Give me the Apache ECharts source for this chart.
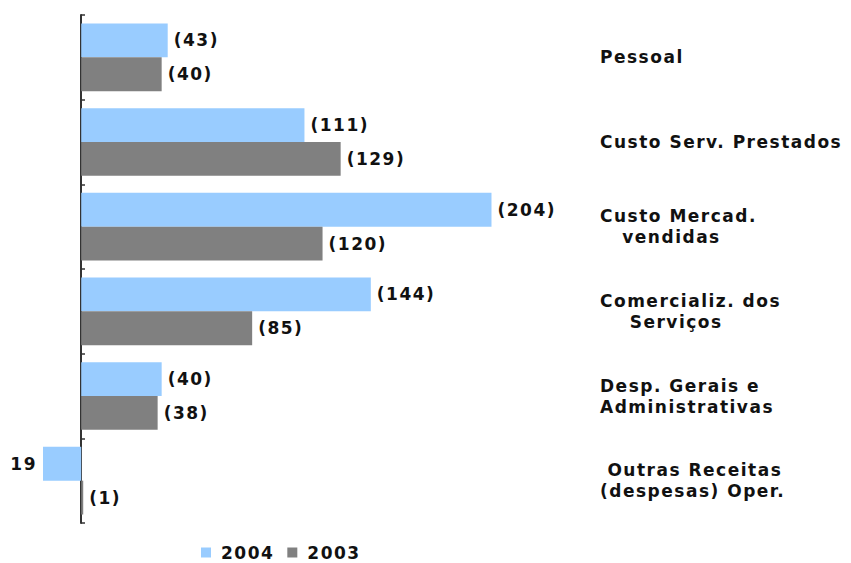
<!DOCTYPE html>
<html lang="pt">
<head>
<meta charset="UTF-8">
<title>Despesas operacionais</title>
<style>
  * { margin: 0; padding: 0; }
  html, body { width: 100%; height: 100%; background: #fff; }
  #chart { width: 851px; height: 563px; }
  /* o original tem letras bem espaçadas */
  #chart svg text { letter-spacing: 1.5px; }
</style>
</head>
<body>
<div id="chart"></div>
<script src="https://cdn.jsdelivr.net/npm/echarts@6/dist/echarts.min.js"></script>
<script>
  // categorias (de cima para baixo)
  var categorias = [
    'Pessoal',
    'Custo Serv. Prestados',
    'Custo Mercad.\n   vendidas',
    'Comercializ. dos\n    Serviços',
    'Desp. Gerais e\nAdministrativas',
    ' Outras Receitas\n(despesas) Oper.'
  ];
  // valores negativos = despesas, mostrados entre parênteses
  var valores2004 = [-43, -111, -204, -144, -40, 19];
  var valores2003 = [-40, -129, -120, -85, -38, -1];

  var fonte = { fontFamily: 'DejaVu Sans', fontWeight: 'bold', fontSize: 17, color: '#111' };

  function fmt(v) {
    return v < 0 ? '(' + (-v) + ')' : String(v);
  }

  function montaDados(arr) {
    return arr.map(function (v) {
      return {
        value: v,
        label: { position: v < 0 ? 'right' : 'left' }
      };
    });
  }

  function serie(nome, arr, cor) {
    return {
      name: nome,
      type: 'bar',
      barGap: '0%',
      barCategoryGap: '20%',
      itemStyle: { color: cor },
      label: Object.assign({
        show: true,
        distance: 6,
        formatter: function (p) { return fmt(p.value); }
      }, fonte),
      data: montaDados(arr)
    };
  }

  var chart = echarts.init(document.getElementById('chart'), null, { renderer: 'svg' });
  chart.setOption({
    animation: false,
    legend: {
      data: ['2004', '2003'],
      left: 196,
      top: 539,
      itemWidth: 10,
      itemHeight: 10,
      itemGap: 19,
      icon: 'rect',
      textStyle: Object.assign({ padding: [0, 0, 0, 5] }, fonte)
    },
    grid: { left: 41, top: 15, width: 543, height: 508, containLabel: false },
    xAxis: {
      type: 'value',
      inverse: true,
      min: -250,
      max: 20,
      show: false
    },
    yAxis: [
      {
        type: 'category',
        inverse: true,
        data: categorias,
        position: 'left',
        offset: -40,
        axisLine: { show: true, onZero: false, lineStyle: { color: '#333', width: 2 } },
        axisTick: { show: true, inside: true, length: 4, lineStyle: { color: '#333', width: 1.5 } },
        axisLabel: { show: false }
      },
      {
        type: 'category',
        inverse: true,
        data: categorias,
        position: 'right',
        axisLine: { show: false },
        axisTick: { show: false },
        axisLabel: Object.assign({ margin: 16, align: 'left', lineHeight: 21 }, fonte)
      }
    ],
    series: [
      serie('2004', valores2004, '#99CCFF'),
      serie('2003', valores2003, '#808080')
    ]
  });
</script>
</body>
</html>
